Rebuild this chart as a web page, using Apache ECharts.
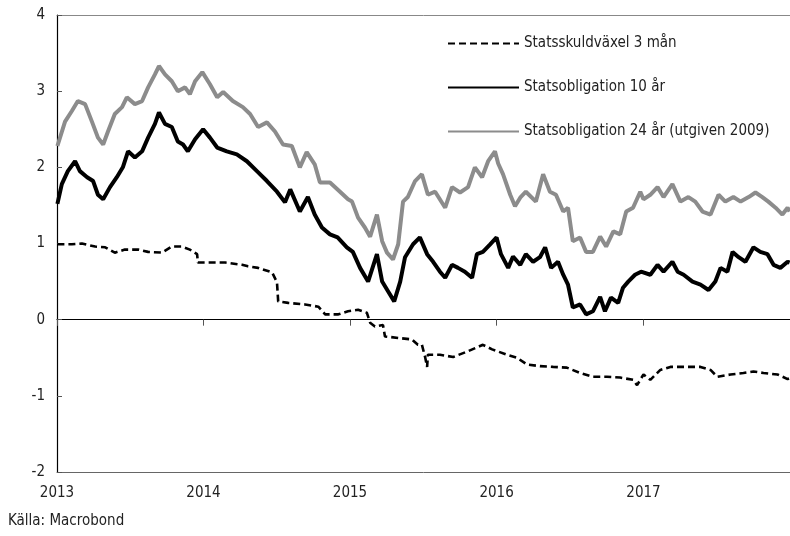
<!DOCTYPE html>
<html lang="sv">
<head>
    <meta charset="UTF-8">
    <title>Räntor</title>
    <script src="https://cdn.jsdelivr.net/npm/echarts@6/dist/echarts.min.js"></script>
    <style>
        html, body { margin: 0; padding: 0; background: #fff; }
    </style>
</head>
<body>
<div id="main" style="width: 790px;height:536px;"></div>

<script type="text/javascript">
    // Statsskuldväxel 3 mån
    var dates3m = ['2013-01-02','2013-02-07','2013-03-04','2013-04-06','2013-05-01','2013-05-25','2013-06-19','2013-07-22',
        '2013-08-16','2013-09-20','2013-10-14','2013-11-08','2013-11-28','2013-12-16','2013-12-18','2014-01-12',
        '2014-02-24','2014-04-07','2014-04-22','2014-05-17','2014-06-21','2014-07-03','2014-07-06','2014-07-31',
        '2014-09-11','2014-10-14','2014-10-31','2014-12-03','2014-12-27','2015-01-21','2015-02-12','2015-02-20',
        '2015-03-04','2015-03-24','2015-03-29','2015-05-01','2015-06-04','2015-06-19','2015-06-29','2015-07-07',
        '2015-07-12','2015-07-14','2015-08-13','2015-09-15','2015-10-19','2015-11-28','2015-12-21','2016-01-27',
        '2016-02-21','2016-03-17','2016-04-18','2016-05-21','2016-06-24','2016-07-27','2016-08-28','2016-10-02',
        '2016-11-04','2016-12-06','2016-12-16','2017-01-01','2017-01-18','2017-02-12','2017-03-09','2017-04-21',
        '2017-05-23','2017-06-17','2017-07-04','2017-08-06','2017-09-07','2017-10-02','2017-10-27','2017-12-01',
        '2017-12-26','2017-12-31'];
    var yield3m = [0.99,0.99,1.0,0.96,0.95,0.88,0.92,0.92,
        0.89,0.88,0.96,0.96,0.92,0.86,0.75,0.75,
        0.75,0.72,0.70,0.68,0.62,0.49,0.24,0.22,
        0.20,0.17,0.07,0.07,0.11,0.13,0.09,-0.04,
        -0.09,-0.07,-0.22,-0.24,-0.26,-0.33,-0.33,-0.49,
        -0.62,-0.46,-0.46,-0.49,-0.42,-0.33,-0.39,-0.46,
        -0.50,-0.59,-0.61,-0.62,-0.63,-0.70,-0.75,-0.75,
        -0.76,-0.79,-0.86,-0.72,-0.79,-0.66,-0.62,-0.62,
        -0.62,-0.66,-0.75,-0.72,-0.70,-0.68,-0.70,-0.72,
        -0.78,-0.77];

    // Statsobligation 10 år
    var dates10y = ['2013-01-02','2013-01-13','2013-01-28','2013-02-15','2013-02-27','2013-03-17','2013-04-01','2013-04-13',
        '2013-04-26','2013-05-13','2013-05-30','2013-06-14','2013-06-27','2013-07-14','2013-08-01','2013-08-16',
        '2013-09-02','2013-09-12','2013-09-27','2013-10-14','2013-10-29','2013-11-11','2013-11-23','2013-12-11',
        '2013-12-31','2014-01-17','2014-02-04','2014-02-28','2014-03-25','2014-04-19','2014-05-14','2014-06-08',
        '2014-07-03','2014-07-23','2014-08-05','2014-08-29','2014-09-18','2014-10-05','2014-10-23','2014-11-12',
        '2014-12-01','2014-12-24','2015-01-08','2015-01-26','2015-02-15','2015-03-09','2015-03-22','2015-04-06',
        '2015-04-21','2015-05-06','2015-05-18','2015-06-07','2015-06-24','2015-07-12','2015-07-27','2015-08-13',
        '2015-08-26','2015-09-12','2015-09-27','2015-10-14','2015-11-01','2015-11-13','2015-11-28','2015-12-16',
        '2016-01-01','2016-01-12','2016-01-30','2016-02-11','2016-02-29','2016-03-14','2016-04-01','2016-04-18',
        '2016-05-01','2016-05-16','2016-06-02','2016-06-15','2016-06-27','2016-07-09','2016-07-27','2016-08-11',
        '2016-08-28','2016-09-15','2016-09-27','2016-10-12','2016-10-30','2016-11-11','2016-11-24','2016-12-11',
        '2016-12-26','2017-01-18','2017-02-05','2017-02-20','2017-03-14','2017-03-27','2017-04-11','2017-05-03',
        '2017-05-23','2017-06-12','2017-06-29','2017-07-12','2017-07-29','2017-08-11','2017-08-26','2017-09-12',
        '2017-10-02','2017-10-19','2017-11-06','2017-11-21','2017-12-08','2017-12-26','2017-12-31'];
    var yield10y = [1.52,1.78,1.95,2.08,1.95,1.87,1.82,1.64,
        1.58,1.74,1.87,2.0,2.21,2.13,2.21,2.39,
        2.57,2.72,2.57,2.53,2.34,2.30,2.21,2.37,
        2.5,2.39,2.26,2.21,2.17,2.08,1.95,1.82,
        1.68,1.54,1.71,1.42,1.61,1.38,1.21,1.12,
        1.08,0.95,0.89,0.68,0.50,0.86,0.50,0.37,
        0.24,0.50,0.82,0.99,1.08,0.86,0.76,0.63,
        0.55,0.72,0.68,0.63,0.55,0.86,0.89,0.99,
        1.08,0.86,0.68,0.83,0.72,0.86,0.76,0.82,
        0.95,0.68,0.76,0.59,0.46,0.16,0.20,0.07,
        0.11,0.30,0.11,0.29,0.22,0.42,0.50,0.59,
        0.63,0.59,0.72,0.63,0.76,0.63,0.59,0.50,
        0.46,0.39,0.50,0.68,0.63,0.89,0.82,0.76,
        0.95,0.89,0.86,0.72,0.68,0.76,0.75];

    // Statsobligation 24 år (utgiven 2009)
    var dates24y = ['2013-01-02','2013-01-21','2013-02-07','2013-02-22','2013-03-12','2013-03-29','2013-04-13','2013-04-26',
        '2013-05-08','2013-05-25','2013-06-12','2013-06-24','2013-07-14','2013-08-01','2013-08-16','2013-09-02',
        '2013-09-12','2013-09-27','2013-10-14','2013-10-29','2013-11-16','2013-11-28','2013-12-11','2013-12-29',
        '2014-01-17','2014-02-04','2014-02-19','2014-03-15','2014-04-09','2014-04-27','2014-05-17','2014-06-08',
        '2014-06-28','2014-07-18','2014-08-09','2014-08-29','2014-09-15','2014-10-05','2014-10-18','2014-11-12',
        '2014-12-07','2014-12-27','2015-01-06','2015-01-21','2015-02-07','2015-02-20','2015-03-09','2015-03-22',
        '2015-04-03','2015-04-18','2015-05-01','2015-05-13','2015-05-25','2015-06-12','2015-06-29','2015-07-14',
        '2015-08-01','2015-08-26','2015-09-12','2015-10-02','2015-10-22','2015-11-08','2015-11-26','2015-12-11',
        '2015-12-28','2016-01-05','2016-01-17','2016-02-04','2016-02-16','2016-03-01','2016-03-14','2016-04-08',
        '2016-04-26','2016-05-13','2016-05-28','2016-06-15','2016-06-27','2016-07-09','2016-07-27','2016-08-11',
        '2016-08-28','2016-09-15','2016-09-30','2016-10-18','2016-11-04','2016-11-19','2016-12-06','2016-12-24',
        '2017-01-01','2017-01-18','2017-02-05','2017-02-20','2017-03-14','2017-04-03','2017-04-23','2017-05-10',
        '2017-05-28','2017-06-17','2017-07-07','2017-07-24','2017-08-13','2017-08-31','2017-09-20','2017-10-07',
        '2017-10-24','2017-11-08','2017-11-26','2017-12-13','2017-12-26','2017-12-31'];
    var yield24y = [2.28,2.6,2.74,2.87,2.83,2.6,2.39,2.30,
        2.47,2.70,2.79,2.92,2.83,2.87,3.05,3.22,
        3.33,3.22,3.13,3.0,3.05,2.96,3.13,3.25,
        3.09,2.92,2.99,2.87,2.79,2.70,2.53,2.59,
        2.47,2.30,2.28,2.0,2.2,2.04,1.80,1.80,
        1.68,1.58,1.55,1.34,1.21,1.09,1.38,1.03,
        0.88,0.79,0.99,1.55,1.61,1.82,1.91,1.64,
        1.68,1.47,1.74,1.67,1.74,2.0,1.87,2.08,
        2.21,2.05,1.91,1.64,1.49,1.61,1.68,1.55,
        1.91,1.68,1.64,1.42,1.47,1.03,1.08,0.89,
        0.89,1.09,0.96,1.16,1.12,1.42,1.47,1.68,
        1.58,1.64,1.74,1.61,1.78,1.55,1.61,1.55,
        1.42,1.38,1.64,1.55,1.61,1.55,1.61,1.67,
        1.61,1.55,1.47,1.38,1.47,1.42];

    var seriesNames = ['Statsskuldväxel 3 mån', 'Statsobligation 10 år', 'Statsobligation 24 år (utgiven 2009)'];
    var yTicks = [-2, -1, 0, 1, 2, 3, 4];

    var fontName = '"Liberation Sans Narrow", "DejaVu Sans Condensed", "Roboto Condensed", sans-serif';
    var DAY = 24 * 3600 * 1000;

    function pairs(dates, vals) {
        return dates.map(function (d, i) { return [d, vals[i]]; });
    }

    var myChart = echarts.init(document.getElementById('main'), null, {renderer: 'canvas'});

    var baseX = {
        type: 'time',
        min: '2013-01-01',
        max: '2018-01-01',
        minInterval: 365 * DAY,
        maxInterval: 366 * DAY,
        splitLine: { show: false },
        axisPointer: { show: false }
    };

    var option = {
        animation: false,
        textStyle: { fontFamily: fontName },
        title: {
            text: 'Källa: Macrobond',
            left: 8,
            top: 514,
            padding: 0,
            textStyle: { fontFamily: fontName, fontSize: 15, fontWeight: 'normal', color: '#222' }
        },
        legend: {
            orient: 'vertical',
            left: 447,
            top: 36,
            padding: 0,
            itemWidth: 71,
            itemHeight: 14,
            itemGap: 29,
            itemStyle: { opacity: 0 },
            textStyle: { fontFamily: fontName, fontSize: 15, color: '#222' },
            data: seriesNames
        },
        grid: {
            left: 57,
            right: 0,
            top: 15,
            bottom: 64,
            containLabel: false
        },
        xAxis: [
            Object.assign({}, baseX, {
                position: 'bottom',
                axisLine: { onZero: false, lineStyle: { color: '#666', width: 1 } },
                axisTick: { show: false },
                axisLabel: {
                    margin: 14,
                    fontFamily: fontName,
                    fontSize: 15,
                    color: '#222',
                    showMaxLabel: false,
                    formatter: function (v) {
                        var y = new Date(v).getFullYear();
                        return y >= 2018 ? '' : String(y);
                    }
                }
            }),
            Object.assign({}, baseX, {
                position: 'top',
                axisLine: { onZero: false, lineStyle: { color: '#888', width: 1 } },
                axisTick: { show: false },
                axisLabel: { show: false }
            }),
            Object.assign({}, baseX, {
                position: 'bottom',
                axisLine: { onZero: true, onZeroAxisIndex: 0, lineStyle: { color: '#000', width: 1.2 } },
                axisTick: { show: true, length: 6, lineStyle: { color: '#555' } },
                axisLabel: { show: false }
            })
        ],
        yAxis: {
            type: 'value',
            min: yTicks[0],
            max: yTicks[yTicks.length - 1],
            interval: 1,
            axisLine: { show: true, onZero: false, lineStyle: { color: '#000', width: 1.2 } },
            axisTick: { show: true, inside: true, length: 5, lineStyle: { color: '#555' } },
            splitLine: { show: false },
            axisLabel: { margin: 12, fontFamily: fontName, fontSize: 15, color: '#222' }
        },
        series: [
            {
                name: seriesNames[0],
                type: 'line',
                xAxisIndex: 0,
                symbol: 'none',
                lineStyle: { color: '#000', width: 2.6, type: [7, 4] },
                itemStyle: { color: '#000' },
                data: pairs(dates3m, yield3m)
            },
            {
                name: seriesNames[1],
                type: 'line',
                xAxisIndex: 0,
                symbol: 'none',
                lineStyle: { color: '#000', width: 4 },
                itemStyle: { color: '#000' },
                data: pairs(dates10y, yield10y)
            },
            {
                name: seriesNames[2],
                type: 'line',
                xAxisIndex: 0,
                symbol: 'none',
                lineStyle: { color: '#8c8c8c', width: 4 },
                itemStyle: { color: '#8c8c8c' },
                data: pairs(dates24y, yield24y)
            }
        ]
    };
    myChart.setOption(option);
</script>
</body>
</html>
